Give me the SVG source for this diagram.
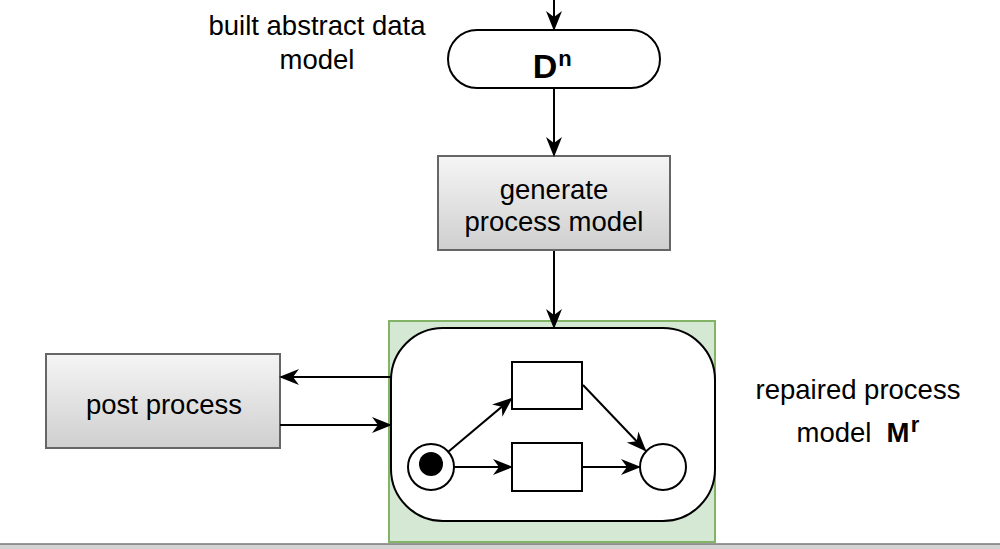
<svg xmlns="http://www.w3.org/2000/svg" width="1000" height="549" viewBox="0 0 1000 549">
<style>
.t{font-family:"Liberation Sans",Arial,sans-serif;font-size:27.5px;fill:#000;text-anchor:middle}
.b{font-weight:bold}
.big{font-size:34px}
.sup{font-size:22px}
.proc{fill:url(#g);stroke:#666;stroke-width:2}
.ln{fill:none;stroke:#000;stroke-width:2}
</style>
<defs>
<linearGradient id="g" x1="0" y1="0" x2="0" y2="1"><stop offset="0" stop-color="#f5f5f5"/><stop offset="1" stop-color="#cfcfcf"/></linearGradient>
<marker id="a" viewBox="0 0 10 10" refX="9" refY="5" markerWidth="20" markerHeight="20" markerUnits="userSpaceOnUse" orient="auto"><path d="M0,1 L10,5 L0,9 L3,5 z" fill="#000"/></marker>
</defs>
<rect x="0" y="544" width="1000" height="5" fill="#d4d4d4"/>
<line x1="0" y1="544" x2="1000" y2="544" stroke="#777" stroke-width="1.5"/>
<g id="label-built"><text class="t" x="317" y="35">built abstract data</text><text class="t" x="317" y="69">model</text></g>
<g id="node-dn"><rect x="448" y="30" width="212" height="58" rx="29" fill="#fff" stroke="#000" stroke-width="2"/><text class="t b big" x="545" y="78">D</text><text class="t b sup" x="565" y="66">n</text></g>
<g id="node-gen"><rect class="proc" x="438" y="156" width="232" height="94"/><text class="t" x="554" y="199">generate</text><text class="t" x="554" y="231">process model</text></g>
<g id="node-post"><rect class="proc" x="46" y="354" width="234" height="94"/><text class="t" x="164" y="414">post process</text></g>
<g id="node-model">
<rect x="389" y="321" width="326" height="221" fill="#d5e8d4" stroke="#82b366" stroke-width="2"/>
<rect x="391" y="328" width="324" height="193" rx="52" fill="#fff" stroke="#000" stroke-width="2"/>
<rect x="512" y="362" width="70" height="47" fill="#fff" stroke="#000" stroke-width="2"/>
<rect x="512" y="443" width="70" height="48" fill="#fff" stroke="#000" stroke-width="2"/>
<circle cx="431" cy="467" r="23" fill="#fff" stroke="#000" stroke-width="2"/>
<circle cx="431" cy="464" r="12" fill="#000"/>
<circle cx="663" cy="467" r="23" fill="#fff" stroke="#000" stroke-width="2"/>
<path class="ln" d="M448,452 L511,399" marker-end="url(#a)"/>
<path class="ln" d="M454,467 L511,467" marker-end="url(#a)"/>
<path class="ln" d="M583,385 L645,450" marker-end="url(#a)"/>
<path class="ln" d="M582,467 L639,467" marker-end="url(#a)"/>
</g>
<g id="label-repaired"><text class="t" x="858" y="399">repaired process</text><text class="t" x="834" y="442">model</text><text class="t b" x="898" y="442">M</text><text class="t b sup" x="915" y="432">r</text></g>
<g id="connectors">
<path class="ln" d="M554,0 L554,29" marker-end="url(#a)"/>
<path class="ln" d="M554,88 L554,155" marker-end="url(#a)"/>
<path class="ln" d="M554,251 L554,327" marker-end="url(#a)"/>
<path class="ln" d="M391,377 L281,377" marker-end="url(#a)"/>
<path class="ln" d="M280,425 L390,425" marker-end="url(#a)"/>
</g>
</svg>
